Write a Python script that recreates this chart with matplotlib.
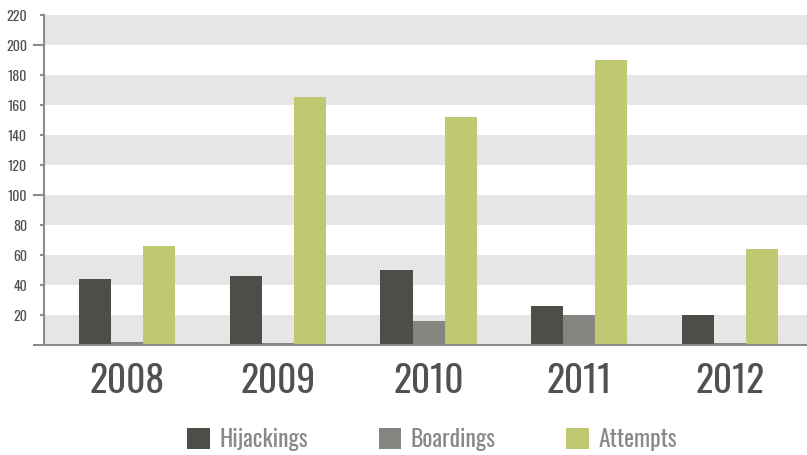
import numpy as np
import matplotlib
matplotlib.use("Agg")
import matplotlib.pyplot as plt
from matplotlib.patches import Patch

plt.rcParams['font.family'] = ['Oswald', 'DejaVu Sans']

years = ['2008', '2009', '2010', '2011', '2012']
hijackings = [44, 46, 50, 26, 20]
boardings = [2, 1, 16, 20, 1]
attempts = [66, 165, 152, 190, 64]

series = ['Hijackings', 'Boardings', 'Attempts']
colors = ['#4b4f48', '#838680', '#c1c872']
band_color = '#e5e6e5'
axis_color = '#8a8c88'
text_dark = '#4f534e'

W, H = 807, 456
fig = plt.figure(figsize=(W / 100, H / 100), dpi=100)
ax = fig.add_axes([44 / W, (H - 346) / H, (W - 44) / W, (346 - 15.7) / H])

# alternating horizontal bands
for lo in range(0, 220, 40):
    ax.axhspan(lo, lo + 20, color=band_color, zorder=0, lw=0)

x = np.arange(len(years))
w = 0.2123
for i, (vals, c) in enumerate(zip([hijackings, boardings, attempts], colors)):
    ax.bar(x + (i - 1) * w, vals, width=w, color=c, zorder=2, lw=0)

ax.set_xlim(-0.55, 4.51)
ax.set_ylim(0, 220)

for s in ['top', 'right']:
    ax.spines[s].set_visible(False)
for s in ['left', 'bottom']:
    ax.spines[s].set_color(axis_color)
    ax.spines[s].set_linewidth(1.5)
    ax.spines[s].set_zorder(3)

ax.set_xticks(x)
ax.set_xticklabels(years, fontsize=27, color=text_dark)
ax.tick_params(axis='x', length=0, pad=12)

ax.set_yticks([0, 100, 200])
ax.set_yticklabels(['', '100', '200'])
ax.set_yticks([20, 40, 60, 80, 120, 140, 160, 180, 220], minor=True)
ax.set_yticklabels(['20', '40', '60', '80', '120', '140', '160', '180', '220'], minor=True)
ax.tick_params(axis='y', which='major', length=8, width=1.5, color=axis_color,
               pad=4.3, labelsize=10, labelcolor=text_dark)
ax.tick_params(axis='y', which='minor', length=3, width=1.5, color=axis_color,
               pad=9.3, labelsize=10, labelcolor=text_dark)

handles = [Patch(facecolor=c, edgecolor='none') for c in colors]
fig.legend(handles, series, loc='center', bbox_to_anchor=(432 / W, (H - 440) / H),
           ncol=3, frameon=False, fontsize=17, labelcolor='#878a85',
           handlelength=0.95, handleheight=0.95, handletextpad=0.4,
           columnspacing=3.0)

fig.savefig('out.png', dpi=100)
